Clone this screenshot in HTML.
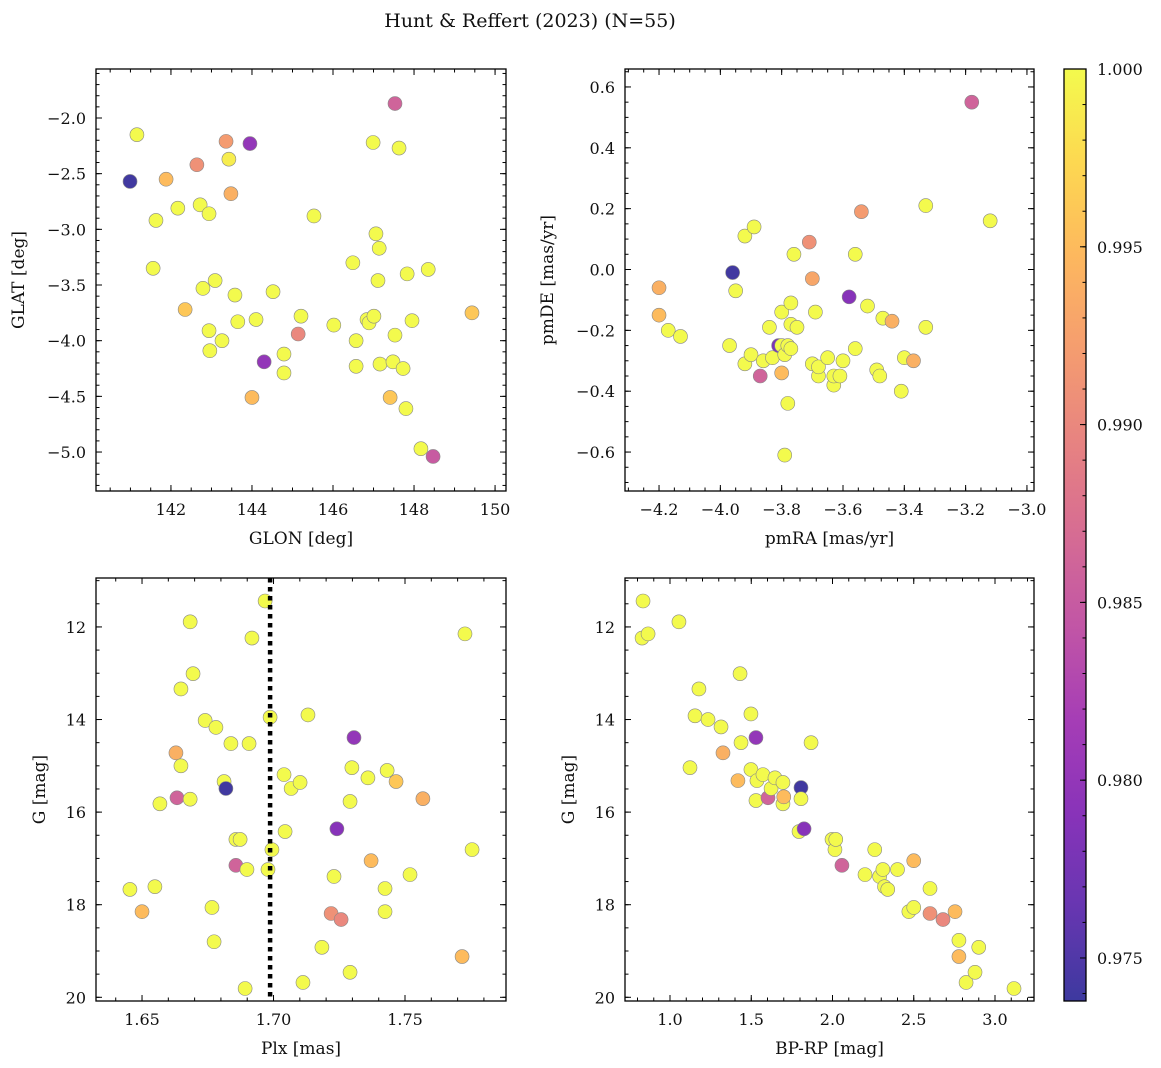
<!DOCTYPE html>
<html><head><meta charset="utf-8"><style>
html,body{margin:0;padding:0;background:#fff;}
svg{display:block;font-family:"DejaVu Serif","Liberation Serif",serif;}
</style></head><body>
<svg id="fig" width="1161" height="1068" xmlns="http://www.w3.org/2000/svg">
<text x="530" y="27" text-anchor="middle" font-size="19" fill="#111">Hunt &amp; Reffert (2023) (N=55)</text>
</svg>
<script>
// Panel 1: GLON / GLAT
const glon1=[140.99,141.16,141.88,141.63,141.56,142.17,142.35,142.64,142.72,142.79,142.94,142.94,142.96,143.09,143.26,143.36,143.43,143.48,143.58,143.65,143.95,144.0,144.10,144.30,144.52,144.79,144.79,145.14,145.21,145.53,146.02,146.49,146.57,146.57,146.84,146.89,146.99,147.01,147.06,147.14,147.11,147.16,147.41,147.48,147.53,147.53,147.63,147.73,147.80,147.83,147.95,148.17,148.35,148.47,149.43];
const glat1=[-2.57,-2.15,-2.55,-2.92,-3.35,-2.81,-3.72,-2.42,-2.78,-3.53,-2.86,-3.91,-4.09,-3.46,-4.00,-2.21,-2.37,-2.68,-3.59,-3.83,-2.23,-4.51,-3.81,-4.19,-3.56,-4.12,-4.29,-3.94,-3.78,-2.88,-3.86,-3.30,-4.00,-4.23,-3.81,-3.84,-2.22,-3.78,-3.04,-3.17,-3.46,-4.21,-4.51,-4.19,-1.87,-3.95,-2.27,-4.25,-4.61,-3.40,-3.82,-4.97,-3.36,-5.04,-3.75];
const prob1=[0.974,1,0.995,1,1,1,0.996,0.991,1,1,1,1,1,1,1,0.992,0.999,0.994,1,1,0.980,0.995,1,0.980,1,1,1,0.990,1,1,1,1,1,1,1,1,1,1,1,1,1,1,0.996,1,0.986,1,1,1,1,1,1,1,1,0.985,0.996];
// Panel 2: pmRA / pmDE
const pmra2=[-4.20,-4.20,-4.17,-4.13,-3.97,-3.96,-3.95,-3.92,-3.92,-3.90,-3.89,-3.87,-3.86,-3.84,-3.83,-3.81,-3.80,-3.80,-3.80,-3.79,-3.79,-3.78,-3.78,-3.77,-3.77,-3.77,-3.76,-3.75,-3.71,-3.70,-3.70,-3.69,-3.68,-3.68,-3.65,-3.63,-3.63,-3.61,-3.60,-3.58,-3.56,-3.56,-3.54,-3.52,-3.49,-3.48,-3.47,-3.44,-3.40,-3.37,-3.33,-3.33,-3.18,-3.12,-3.41];
const pmde2=[-0.06,-0.15,-0.20,-0.22,-0.25,-0.01,-0.07,0.11,-0.31,-0.28,0.14,-0.35,-0.30,-0.19,-0.29,-0.25,-0.34,-0.25,-0.14,-0.61,-0.28,-0.25,-0.44,-0.26,-0.11,-0.18,0.05,-0.19,0.09,-0.03,-0.31,-0.14,-0.35,-0.32,-0.29,-0.38,-0.35,-0.35,-0.30,-0.09,0.05,-0.26,0.19,-0.12,-0.33,-0.35,-0.16,-0.17,-0.29,-0.30,0.21,-0.19,0.55,0.16,-0.40];
const prob2=[0.994,0.995,1,1,1,0.974,1,1,1,1,1,0.986,1,1,1,0.978,0.995,1,1,1,1,1,1,1,1,1,1,1,0.991,0.993,1,1,1,1,1,1,1,1,1,0.979,1,1,0.992,1,1,1,1,0.994,1,0.994,1,1,0.986,1,1];
// Panel 3: Plx / G
const plx3=[1.6454,1.6500,1.6549,1.6568,1.6629,1.6633,1.6648,1.6648,1.6683,1.6683,1.6694,1.6740,1.6766,1.6774,1.6781,1.6812,1.6819,1.6838,1.6857,1.6857,1.6873,1.6892,1.6899,1.6907,1.6918,1.6968,1.6979,1.6987,1.6994,1.7040,1.7044,1.7067,1.7101,1.7112,1.7131,1.7184,1.7219,1.7230,1.7241,1.7257,1.7291,1.7291,1.7298,1.7306,1.7359,1.7371,1.7424,1.7424,1.7432,1.7466,1.7519,1.7568,1.7717,1.7728,1.7755];
const g3=[17.67,18.15,17.61,15.82,14.72,15.69,15.00,13.34,11.89,15.72,13.01,14.02,18.06,18.80,14.17,15.34,15.49,14.52,17.15,16.59,16.59,19.81,17.24,14.52,12.24,11.44,17.24,13.95,16.81,15.19,16.42,15.49,15.36,19.68,13.90,18.92,18.19,17.39,16.36,18.32,19.46,15.77,15.04,14.39,15.26,17.05,18.15,17.65,15.10,15.34,17.35,15.71,19.12,12.15,16.81];
const prob3=[1,0.995,1,1,0.994,0.986,1,1,1,1,1,1,1,1,1,1,0.974,1,0.986,1,1,1,1,1,1,1,1,1,1,1,1,1,1,1,1,1,0.991,1,0.979,0.990,1,1,1,0.980,1,0.995,1,1,1,0.996,1,0.994,0.995,1,1];
// Panel 4: BP-RP / G
const bprp4=[0.834,0.828,0.865,1.055,1.178,1.154,1.234,1.123,1.314,1.326,1.431,1.437,1.418,1.498,1.498,1.529,1.529,1.535,1.572,1.603,1.622,1.646,1.695,1.695,1.70,1.794,1.806,1.806,1.825,1.868,1.997,2.015,2.02,2.058,2.20,2.26,2.29,2.31,2.32,2.34,2.40,2.47,2.50,2.50,2.60,2.60,2.68,2.754,2.778,2.778,2.822,2.877,2.90,3.117];
const g4=[11.44,12.24,12.15,11.89,13.34,13.92,14.00,15.04,14.16,14.72,13.01,14.50,15.32,13.88,15.08,14.39,15.75,15.32,15.19,15.69,15.49,15.26,15.82,15.36,15.67,16.42,15.47,15.71,16.36,14.50,16.59,16.81,16.59,17.15,17.35,16.81,17.39,17.24,17.61,17.67,17.24,18.15,17.05,18.06,18.19,17.65,18.32,18.15,18.77,19.12,19.68,19.46,18.92,19.81];
const prob4=[1,1,1,1,1,1,1,1,1,0.994,1,1,0.995,1,1,0.980,1,1,1,0.986,1,1,1,1,0.995,1,0.974,1,0.979,1,1,1,1,0.986,1,1,1,1,1,1,1,1,0.995,1,0.991,1,0.990,0.995,1,0.995,1,1,1,1];
const cbTicks=[0.975,0.980,0.985,0.990,0.995,1.000];
const plxLine=[1.6987];

const NS='http://www.w3.org/2000/svg';
const svg=document.getElementById('fig');
function mk(tag,attrs,parent){const e=document.createElementNS(NS,tag);for(const k in attrs)e.setAttribute(k,attrs[k]);(parent||svg).appendChild(e);return e;}
const stops=[[13,8,135],[65,4,157],[106,0,168],[143,13,164],[177,42,144],[204,71,120],[225,100,98],[242,132,75],[252,166,54],[252,206,37],[240,249,33]];
const CMIN=0.97379,CMAX=1.0;
function cmap(v){let t=(v-CMIN)/(CMAX-CMIN);t=Math.max(0,Math.min(1,t))*10;const i=Math.min(9,Math.floor(t)),f=t-i;const a=stops[i],b=stops[i+1];
 const c=[0,1,2].map(k=>Math.round((a[k]+(b[k]-a[k])*f)*0.8+255*0.2));return `rgb(${c[0]},${c[1]},${c[2]})`;}
function fmt(v,d){const s=v.toFixed(d);return s.replace('-','\u2212');}

function panel(o){
 const g=mk('g',{});
 
 
 const X=v=>o.x0+(v-o.xmin)/(o.xmax-o.xmin)*(o.x1-o.x0);
 const Y=o.yinv?(v=>o.y0+(v-o.ymin)/(o.ymax-o.ymin)*(o.y1-o.y0)):(v=>o.y1-(v-o.ymin)/(o.ymax-o.ymin)*(o.y1-o.y0));
 for(let i=0;i<o.xs.length;i++){
  const c=mk('circle',{cx:X(o.xs[i]),cy:Y(o.ys[i]),r:7,fill:cmap(o.ps[i]),stroke:'#888','stroke-width':0.6},g);
  
  
 }
 if(o.vline){for(const v of o.vline){const l=mk('line',{x1:X(v),x2:X(v),y1:o.y0,y2:o.y1,stroke:'#000','stroke-width':4.5,'stroke-dasharray':'4.5,4.5'},g);
  
  }}
 const tk=(v,maj,axis)=>{const L=maj?6:3.5;
  if(axis==='x'){const x=X(v);mk('line',{x1:x,x2:x,y1:o.y1,y2:o.y1-L,stroke:'#000','stroke-width':1},g);mk('line',{x1:x,x2:x,y1:o.y0,y2:o.y0+L,stroke:'#000','stroke-width':1},g);}
  else{const y=Y(v);mk('line',{x1:o.x0,x2:o.x0+L,y1:y,y2:y,stroke:'#000','stroke-width':1},g);mk('line',{x1:o.x1,x2:o.x1-L,y1:y,y2:y,stroke:'#000','stroke-width':1},g);}};
 for(let v=Math.ceil(o.xmin/o.xmi-1e-6)*o.xmi;v<=o.xmax+1e-9;v+=o.xmi)tk(v,false,'x');
 for(let v=Math.ceil(o.ymin/o.ymi-1e-6)*o.ymi;v<=o.ymax+1e-9;v+=o.ymi)tk(v,false,'y');
 for(const v of o.xt){tk(v,true,'x');const t=mk('text',{x:X(v),y:o.y1+24,'text-anchor':'middle','font-size':16,fill:'#111'},g);t.textContent=fmt(v,o.xd);
  
  }
 for(const v of o.yt){tk(v,true,'y');const t=mk('text',{x:o.x0-10,y:Y(v)+6,'text-anchor':'end','font-size':16,fill:'#111'},g);t.textContent=fmt(v,o.yd);
  
  }
 const r=mk('rect',{x:o.x0,y:o.y0,width:o.x1-o.x0,height:o.y1-o.y0,fill:'none',stroke:'#000','stroke-width':1.3},g);
 
 
 const xl=mk('text',{x:(o.x0+o.x1)/2,y:o.y1+53,'text-anchor':'middle','font-size':17,fill:'#111'},g);xl.textContent=o.xlab;
 
 
 const cy=(o.y0+o.y1)/2;
 const yl=mk('text',{x:o.ylx,y:cy,'text-anchor':'middle','font-size':17,fill:'#111',transform:`rotate(-90 ${o.ylx} ${cy})`},g);yl.textContent=o.ylab;
 
 
}
panel({name:'glon-glat-panel',ptname:'star-point',xs:glon1,ys:glat1,ps:prob1,x0:96,x1:506,y0:69,y1:491,xmin:140.15,xmax:150.27,ymin:-5.35,ymax:-1.56,
 xt:[142,144,146,148,150],xd:0,xmi:0.5,yt:[-5,-4.5,-4,-3.5,-3,-2.5,-2],yd:1,ymi:0.1,xlab:'GLON [deg]',ylab:'GLAT [deg]',ylx:24});
panel({name:'proper-motion-panel',ptname:'star-point',xs:pmra2,ys:pmde2,ps:prob2,x0:625,x1:1034,y0:69,y1:491,xmin:-4.311,xmax:-2.977,ymin:-0.728,ymax:0.659,
 xt:[-4.2,-4.0,-3.8,-3.6,-3.4,-3.2,-3.0],xd:1,xmi:0.05,yt:[-0.6,-0.4,-0.2,0,0.2,0.4,0.6],yd:1,ymi:0.05,xlab:'pmRA [mas/yr]',ylab:'pmDE [mas/yr]',ylx:553});
panel({name:'parallax-mag-panel',ptname:'star-point',xs:plx3,ys:g3,ps:prob3,x0:96,x1:506,y0:578,y1:1001,xmin:1.6325,xmax:1.7884,ymin:10.943,ymax:20.08,yinv:true,
 xt:[1.65,1.70,1.75],xd:2,xmi:0.01,yt:[12,14,16,18,20],yd:0,ymi:0.5,xlab:'Plx [mas]',ylab:'G [mag]',ylx:45,vline:plxLine});
panel({name:'cmd-panel',ptname:'star-point',xs:bprp4,ys:g4,ps:prob4,x0:625,x1:1034,y0:578,y1:1001,xmin:0.723,xmax:3.24,ymin:10.943,ymax:20.08,yinv:true,
 xt:[1.0,1.5,2.0,2.5,3.0],xd:1,xmi:0.1,yt:[12,14,16,18,20],yd:0,ymi:0.5,xlab:'BP-RP [mag]',ylab:'G [mag]',ylx:574});

(function(){
 const cb=mk('g',{});
 
 
 const x0=1064,x1=1086,y0=69,y1=1001;
 const defs=mk('defs',{},cb);const lg=mk('linearGradient',{id:'cbg',x1:0,y1:1,x2:0,y2:0},defs);
 for(let i=0;i<=20;i++){const v=CMIN+(CMAX-CMIN)*i/20;mk('stop',{offset:(i/20),'stop-color':cmap(v)},lg);}
 mk('rect',{x:x0,y:y0,width:x1-x0,height:y1-y0,fill:'url(#cbg)'},cb);
 const Y=v=>y1-(v-CMIN)/(CMAX-CMIN)*(y1-y0);
 for(let v=0.974;v<=1.00001;v+=0.001)mk('line',{x1:x1,x2:x1-3.5,y1:Y(v),y2:Y(v),stroke:'#000','stroke-width':1},cb);
 for(const v of cbTicks){mk('line',{x1:x1,x2:x1-6,y1:Y(v),y2:Y(v),stroke:'#000','stroke-width':1},cb);
  const t=mk('text',{x:x1+11,y:Y(v)+6,'font-size':16,fill:'#111'},cb);t.textContent=v.toFixed(3);
  
  }
 mk('rect',{x:x0,y:y0,width:x1-x0,height:y1-y0,fill:'none',stroke:'#000','stroke-width':1.3},cb);
})();
</script>
</body></html>
